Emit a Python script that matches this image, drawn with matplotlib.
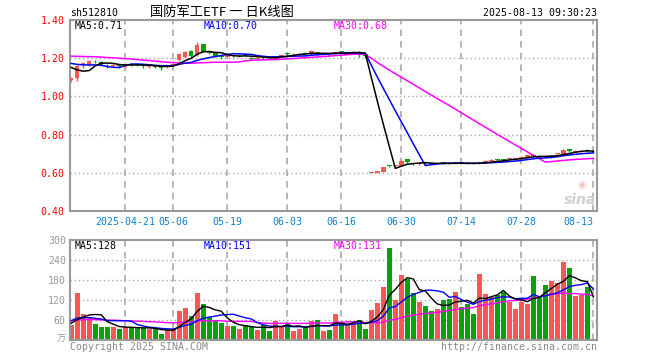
import numpy as np
import pandas as pd
import matplotlib
matplotlib.use('Agg')
import matplotlib.pyplot as plt

# 29 sessions before the window: only used to seed the moving averages
prior_close = [1.19, 1.20, 1.21, 1.20, 1.22, 1.23, 1.21, 1.22, 1.24, 1.23, 1.25, 1.24, 1.23, 1.24,
               1.25, 1.24, 1.23, 1.26, 1.27, 1.24, 1.21, 1.20, 1.19, 1.18, 1.19, 1.22, 1.21, 1.17, 1.06]
prior_volume = [52, 60, 48, 55, 63, 58, 50, 54, 66, 59, 53, 57, 61, 49, 55, 62, 58, 52, 56, 62,
                60, 72, 65, 70, 62, 88, 40, 38, 40]

# daily candles 2025-04-08 .. 2025-08-13 (split after 06-20)
opens = [1.085, 1.095, 1.163, 1.165, 1.186, 1.180, 1.166, 1.158, 1.162, 1.155,
         1.170, 1.168, 1.162, 1.155, 1.158, 1.155, 1.152, 1.160, 1.190, 1.205,
         1.240, 1.215, 1.272, 1.232, 1.225, 1.208, 1.208, 1.214, 1.210, 1.219,
         1.200, 1.198, 1.202, 1.202, 1.198, 1.211, 1.226, 1.220, 1.220, 1.226,
         1.220, 1.232, 1.222, 1.222, 1.222, 1.236, 1.224, 1.224, 1.233, 1.220,
         0.601, 0.600, 0.606, 0.638, 0.635, 0.637, 0.671, 0.649, 0.647, 0.651,
         0.650, 0.647, 0.653, 0.650, 0.647, 0.651, 0.650, 0.651, 0.648, 0.651,
         0.664, 0.669, 0.670, 0.671, 0.674, 0.673, 0.682, 0.694, 0.690, 0.684,
         0.682, 0.697, 0.700, 0.723, 0.710, 0.712, 0.719, 0.714]
closes = [1.097, 1.158, 1.175, 1.186, 1.183, 1.167, 1.162, 1.165, 1.158, 1.170,
          1.168, 1.163, 1.160, 1.158, 1.155, 1.150, 1.160, 1.172, 1.220, 1.235,
          1.210, 1.268, 1.235, 1.228, 1.210, 1.205, 1.215, 1.210, 1.214, 1.217,
          1.197, 1.203, 1.200, 1.199, 1.212, 1.215, 1.224, 1.223, 1.224, 1.222,
          1.236, 1.222, 1.225, 1.220, 1.230, 1.234, 1.230, 1.234, 1.220, 1.210,
          0.604, 0.608, 0.629, 0.636, 0.638, 0.662, 0.658, 0.648, 0.650, 0.649,
          0.648, 0.650, 0.651, 0.648, 0.652, 0.650, 0.649, 0.649, 0.652, 0.662,
          0.667, 0.667, 0.666, 0.676, 0.677, 0.684, 0.693, 0.688, 0.684, 0.682,
          0.690, 0.702, 0.720, 0.712, 0.713, 0.716, 0.713, 0.712]
highs = [1.103, 1.162, 1.182, 1.190, 1.190, 1.183, 1.170, 1.170, 1.166, 1.173,
         1.176, 1.172, 1.166, 1.162, 1.162, 1.158, 1.164, 1.175, 1.224, 1.240,
         1.245, 1.283, 1.275, 1.236, 1.228, 1.212, 1.218, 1.218, 1.220, 1.226,
         1.204, 1.206, 1.206, 1.205, 1.214, 1.218, 1.232, 1.226, 1.228, 1.230,
         1.242, 1.234, 1.228, 1.226, 1.234, 1.240, 1.233, 1.238, 1.236, 1.224,
         0.606, 0.610, 0.632, 0.642, 0.641, 0.666, 0.674, 0.652, 0.653, 0.655,
         0.653, 0.653, 0.657, 0.654, 0.655, 0.655, 0.654, 0.654, 0.654, 0.665,
         0.672, 0.673, 0.673, 0.679, 0.680, 0.687, 0.697, 0.697, 0.692, 0.688,
         0.693, 0.705, 0.723, 0.727, 0.718, 0.720, 0.722, 0.716]
lows = [1.075, 1.080, 1.150, 1.160, 1.176, 1.163, 1.150, 1.152, 1.150, 1.150,
        1.160, 1.158, 1.150, 1.150, 1.150, 1.140, 1.148, 1.158, 1.186, 1.200,
        1.205, 1.212, 1.230, 1.220, 1.205, 1.198, 1.204, 1.205, 1.206, 1.210,
        1.190, 1.194, 1.196, 1.195, 1.196, 1.208, 1.216, 1.216, 1.216, 1.218,
        1.218, 1.218, 1.218, 1.212, 1.220, 1.226, 1.220, 1.222, 1.205, 1.200,
        0.598, 0.598, 0.604, 0.630, 0.632, 0.635, 0.648, 0.643, 0.643, 0.641,
        0.644, 0.645, 0.646, 0.644, 0.645, 0.646, 0.645, 0.645, 0.646, 0.650,
        0.660, 0.662, 0.663, 0.668, 0.670, 0.671, 0.680, 0.684, 0.680, 0.676,
        0.676, 0.694, 0.698, 0.708, 0.707, 0.710, 0.710, 0.710]
volumes = [45, 142, 78, 70, 48, 40, 40, 40, 34, 40,
           36, 36, 36, 34, 32, 18, 30, 32, 88, 96,
           72, 142, 108, 70, 60, 52, 42, 42, 34, 45,
           38, 30, 45, 28, 58, 42, 50, 28, 34, 36,
           58, 60, 28, 30, 78, 55, 45, 50, 60, 34,
           90, 112, 160, 277, 120, 195, 182, 142, 115, 102,
           88, 93, 120, 124, 144, 100, 108, 78, 198, 138,
           128, 135, 144, 115, 93, 115, 108, 192, 130, 165,
           178, 172, 235, 215, 132, 135, 159, 4]

tick_pos = [9, 17, 26, 36, 45, 55, 65, 75, 87]
tick_labels = ['2025-04-21', '05-06', '05-19', '06-03', '06-16', '06-30', '07-14', '07-28', '08-13']
price_ticks = [0.40, 0.60, 0.80, 1.00, 1.20, 1.40]
volume_ticks = [60, 120, 180, 240, 300]

RED, GREEN = '#fa5656', '#0aa10a'
MA_COLORS = {5: 'black', 10: '#0000ff', 30: '#ff00ff'}
GRID = '#aaaaaa'
MONO = 'DejaVu Sans Mono'
FS = 7.1

o, c, h, l, v = map(np.array, (opens, closes, highs, lows, volumes))
x = np.arange(len(c))
colors = np.where(c >= o, RED, GREEN)
n = len(c)
close_ma = {k: pd.Series(prior_close + closes).rolling(k).mean().values[-n:] for k in (5, 10, 30)}
vol_ma = {k: pd.Series(prior_volume + volumes).rolling(k).mean().values[-n:] for k in (5, 10, 30)}

fig = plt.figure(figsize=(6.6, 3.6), dpi=100)
ax = fig.add_axes([70 / 660, 149 / 360, 527 / 660, 191 / 360])
axv = fig.add_axes([70 / 660, 20 / 360, 527 / 660, 100 / 360])


def px(xp, yp):
    return xp / 660, 1 - yp / 360


for a in (ax, axv):
    a.set_xlim(-0.2, 87.6)
    for s in a.spines.values():
        s.set_color('#999999')
        s.set_linewidth(1.5)
    for t in tick_pos:
        a.axvline(t, color=GRID, ls=(0, (4, 3)), lw=1.2, zorder=0)
    a.tick_params(length=0)

# price panel
ax.set_ylim(0.40, 1.40)
for yv in price_ticks[1:-1]:
    ax.axhline(yv, color=GRID, ls=(0, (1, 2)), lw=1, zorder=0)
ax.vlines(x, l, h, colors=colors, lw=1, zorder=2)
ax.bar(x, np.maximum(np.abs(c - o), 0.004), bottom=np.minimum(o, c), width=0.75, color=colors, lw=0, zorder=3)
for k in (30, 10, 5):
    ax.plot(x, close_ma[k], color=MA_COLORS[k], lw=1.1, zorder=4)
ax.set_yticks(price_ticks, ['%.2f' % t for t in price_ticks])
ax.set_xticks(tick_pos, tick_labels)
ax.tick_params(axis='y', colors='red', pad=4)
ax.tick_params(axis='x', colors='#0a82d2', pad=4.5)
for lab in ax.get_xticklabels() + ax.get_yticklabels():
    lab.set_family(MONO)
    lab.set_fontsize(FS)
ax.get_xticklabels()[-1].set_ha('right')

# volume panel
axv.set_ylim(0, 300)
for yv in volume_ticks[:-1]:
    axv.axhline(yv, color=GRID, ls=(0, (1, 2)), lw=1, zorder=0)
axv.bar(x, v, width=0.8, color=colors, lw=0, zorder=2)
for k in (30, 10, 5):
    axv.plot(x, vol_ma[k], color=MA_COLORS[k], lw=1, zorder=3)
axv.set_yticks(volume_ticks, [str(t) for t in volume_ticks])
axv.set_xticks(tick_pos, [''] * len(tick_pos))
axv.tick_params(axis='y', colors='#999999', pad=3)
for lab in axv.get_yticklabels():
    lab.set_family(MONO)
    lab.set_fontsize(FS)

# header and labels
fig.text(*px(70, 13), 'sh512810', family=MONO, fontsize=FS, va='center')
fig.text(*px(150, 12), '国防军工ETF 一 日K线图', family=['Noto Sans CJK SC', 'DejaVu Sans'],
         fontsize=9.5, va='center')
fig.text(*px(597, 12.5), '2025-08-13 09:30:23', family=MONO, fontsize=FS, va='center', ha='right')

ma_x = {5: 74.5, 10: 204, 30: 334}
price_lbl = {5: 'MA5:0.71', 10: 'MA10:0.70', 30: 'MA30:0.68'}
vol_lbl = {5: 'MA5:128', 10: 'MA10:151', 30: 'MA30:131'}
for k in (5, 10, 30):
    fig.text(*px(ma_x[k], 26), price_lbl[k], color=MA_COLORS[k], family=MONO, fontsize=FS, va='center')
    fig.text(*px(ma_x[k], 246), vol_lbl[k], color=MA_COLORS[k], family=MONO, fontsize=FS, va='center')

fig.text(*px(66, 339), '万', color='#999999', family=['Noto Sans CJK SC', 'DejaVu Sans'],
         fontsize=6.5, va='center', ha='right')
fig.text(*px(70, 346.5), 'Copyright 2025 SINA.COM', color='#888888', family=MONO, fontsize=FS, va='center')
fig.text(*px(597, 346.5), 'http://finance.sina.com.cn', color='#888888', family=MONO, fontsize=FS,
         va='center', ha='right')

# sina watermark
fig.text(*px(582, 185), '◉', color='#f6c4c4', fontsize=7, ha='center', va='center')
fig.text(*px(580, 200), 'sina', color='#cfcfcf', fontsize=10, fontweight='bold', style='italic',
         ha='center', va='center')

fig.savefig('out.png', dpi=100)
